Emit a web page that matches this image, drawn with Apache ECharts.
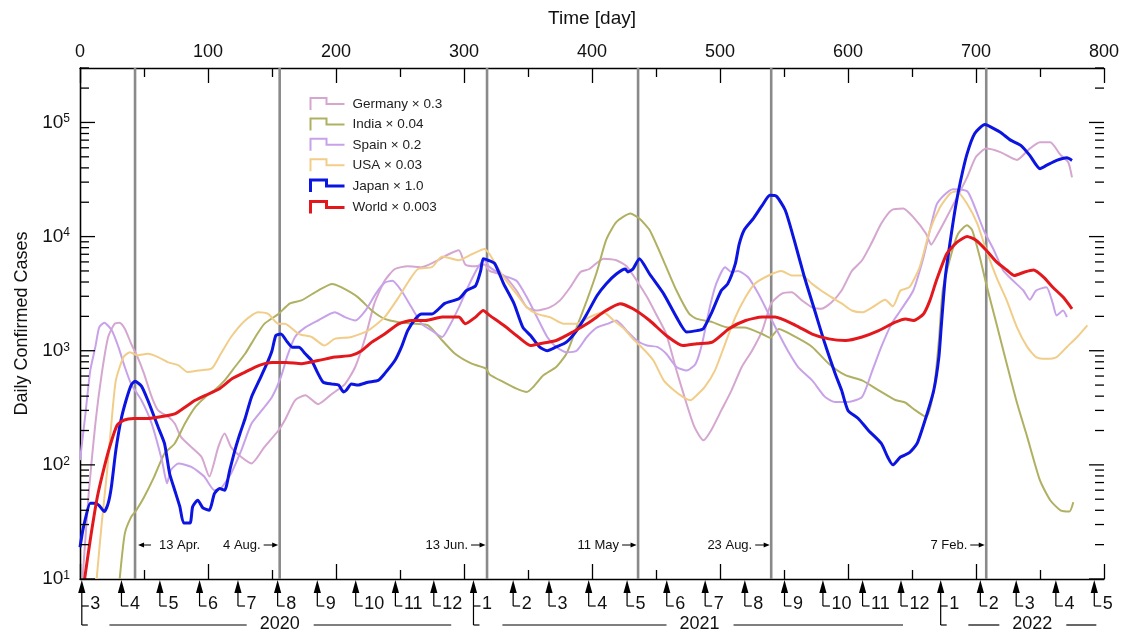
<!DOCTYPE html>
<html>
<head>
<meta charset="utf-8">
<script src="https://cdn.jsdelivr.net/npm/echarts@6/dist/echarts.min.js"></script>
<style>
  html, body { margin: 0; padding: 0; background: #ffffff; }
  #chart { width: 1123px; height: 632px; }
</style>
</head>
<body>
<div id="chart"></div>
<script>
// Daily confirmed cases (7-day smoothed), scaled per country. Day 0 = 1 March 2020.
const germany = [[2,10],[7,60],[12,230],[17,630],[22,1320],[27,1720],[31,1760],[35,1560],[40,1150],[45,880],[50,630],[56,394],[61,300],[69,264],[74,230],[79,175],[87,143],[95,117],[101,79],[108,143],[113,188],[118,143],[126,117],[134,103],[144,143],[155,200],[160,246],[168,368],[176,407],[186,340],[197,420],[207,510],[215,720],[223,1320],[230,2600],[238,4100],[246,5200],[256,5500],[267,5400],[277,6000],[288,7000],[296,7600],[301,5700],[309,5500],[316,5700],[320,5000],[331,4560],[341,3370],[349,2400],[357,2250],[367,2400],[375,2760],[383,3600],[391,4900],[398,5200],[409,6400],[419,6200],[427,5500],[435,4100],[443,2950],[450,2100],[458,1400],[466,670],[474,340],[480,215],[487,164],[493,200],[501,300],[509,450],[517,720],[525,1000],[533,1500],[540,2600],[548,3150],[556,3250],[564,2760],[572,2400],[579,2330],[587,2650],[595,3370],[603,5000],[611,6200],[618,8600],[626,13000],[634,17000],[643,17600],[651,14800],[661,10600],[665,8500],[670,10500],[676,14000],[684,20800],[693,33000],[700,50000],[708,59000],[719,55000],[732,47000],[742,59000],[750,67000],[758,67000],[766,52000],[772,45000],[775,33000]];

const india = [[31,10],[35,25],[40,35],[44,40],[50,52],[58,79],[66,126],[74,154],[82,230],[90,320],[98,394],[105,450],[113,550],[121,720],[129,940],[137,1320],[144,1720],[155,2100],[164,2600],[173,2760],[186,3370],[197,3850],[204,3600],[217,2950],[228,2250],[238,1900],[249,1780],[262,1720],[272,1670],[283,1230],[293,940],[306,770],[317,700],[320,620],[331,530],[341,465],[349,435],[354,480],[362,610],[372,720],[380,940],[388,1600],[396,2760],[404,5000],[411,9300],[419,13400],[430,15900],[437,14400],[445,11400],[456,6100],[466,3370],[476,2100],[482,1900],[494,1780],[506,1600],[519,1600],[533,1400],[539,1300],[546,1550],[559,1320],[572,1080],[585,770],[598,610],[611,550],[624,450],[637,370],[645,350],[651,310],[661,263],[667,450],[671,1230],[674,3370],[680,6600],[686,10600],[693,12550],[697,11400],[703,6600],[708,3850],[716,1720],[724,770],[732,350],[740,176],[750,73],[758,49],[766,40],[773,39],[776,47]];

const spain = [[0,110],[4,264],[8,670],[12,1080],[15,1600],[19,1760],[25,1500],[30,1080],[35,720],[40,510],[48,368],[56,230],[64,110],[68,69],[71,90],[77,103],[87,96],[97,79],[105,60],[110,62],[118,84],[126,134],[134,230],[142,300],[150,394],[157,590],[162,900],[168,1320],[176,1600],[186,1840],[199,2170],[207,1970],[215,1840],[223,2250],[231,3150],[238,3950],[244,4100],[251,3370],[259,2400],[267,1720],[275,1500],[283,1320],[288,1600],[296,2400],[303,3600],[311,5400],[316,6200],[320,5400],[331,4560],[341,4100],[349,2950],[357,1970],[365,1320],[372,1080],[380,970],[388,1000],[396,1320],[404,1600],[412,1720],[419,1840],[427,1500],[435,1230],[443,1110],[451,1080],[458,940],[466,720],[474,670],[481,770],[486,1150],[492,2400],[497,3850],[504,5400],[509,4900],[514,5000],[522,4400],[530,3150],[538,2100],[546,1400],[553,1000],[561,720],[572,550],[582,394],[590,355],[600,355],[611,394],[619,670],[626,1080],[634,1720],[641,2250],[651,3370],[659,6600],[664,11400],[669,18800],[675,23000],[682,26000],[693,25000],[698,19400],[706,11400],[714,7600],[721,5100],[729,4100],[737,3370],[742,2800],[747,3370],[755,3600],[760,2600],[763,2040],[768,2250],[771,1970]];

const usa = [[13,10],[17,31],[21,84],[24.5,230],[28,550],[34,880],[39,970],[45,910],[53,940],[61,880],[69,790],[77,745],[84,650],[92,670],[103,700],[110,940],[118,1320],[129,1840],[139,2170],[147,2100],[155,1720],[160,1720],[171,1400],[181,1320],[191,1110],[199,1270],[212,1320],[225,1500],[238,1970],[249,2950],[257,4100],[264,5200],[275,5400],[283,6700],[296,6200],[306,7000],[316,7800],[320,7000],[331,4400],[341,3150],[349,2400],[357,2100],[367,1970],[378,1720],[388,1720],[398,1970],[409,2170],[417,1840],[425,1560],[432,1270],[440,1040],[448,820],[456,550],[464,450],[471,394],[477,368],[481,400],[488,480],[496,670],[504,1150],[512,1970],[520,2950],[527,3850],[538,4560],[548,5000],[556,4560],[564,4560],[572,3850],[579,3370],[587,2950],[595,2600],[603,2250],[611,2170],[619,2400],[629,2800],[635,2450],[641,3370],[648,3600],[656,5400],[664,11400],[672,18200],[680,24000],[685,25000],[693,19400],[701,13000],[708,7600],[716,4400],[724,2760],[732,1600],[740,1080],[747,880],[755,850],[763,880],[771,1080],[779,1320],[787,1670]];

const japan = [[0,19],[2,26],[4,33],[8,46],[12,46],[15,44],[19,39],[22,46],[24.5,64],[28,134],[32,246],[36,368],[40,500],[43,540],[48,490],[53,368],[61,215],[66,154],[70,84],[74,60],[78,43],[81,31],[86,31],[88,43],[92,49],[96,42],[101,40],[105,56],[109,62],[113,60],[117,90],[121,134],[125,188],[129,255],[134,394],[140,550],[146,770],[150,1000],[153,1360],[157,1400],[162,1190],[166,1070],[171,1070],[176,940],[181,820],[186,630],[190,530],[197,510],[202,500],[206,435],[208,450],[212,510],[217,500],[225,530],[233,550],[238,630],[246,820],[251,1070],[256,1500],[262,1900],[267,2100],[275,2100],[285,2600],[296,2850],[302,3370],[309,3700],[313,5000],[315,6400],[319,6200],[324,5800],[331,3850],[339,2600],[346,1600],[352,1360],[359,1080],[365,1000],[372,1080],[380,1190],[388,1500],[396,2100],[404,3050],[411,3850],[419,4700],[426,5200],[428,4900],[432,5200],[437,6400],[445,4700],[456,3150],[466,1970],[474,1460],[482,1500],[487,1560],[493,2100],[501,3370],[506,3850],[512,5800],[515,8600],[519,11500],[526,14400],[533,18800],[539,23000],[544,22600],[551,17000],[558,9300],[566,4400],[574,2250],[582,1150],[590,630],[595,450],[600,300],[608,255],[616,200],[626,154],[631,117],[635,100],[641,117],[648,128],[654,154],[661,263],[667,450],[671,880],[673,1720],[676,4400],[680,9300],[684,18200],[688,31000],[693,53000],[699,80000],[707,96000],[711,92000],[719,82000],[727,70000],[735,63000],[742,51500],[750,39400],[755,42000],[763,46500],[771,49000],[775,46500]];

const world = [[3.6,10],[8,22],[13.5,52],[19,96],[24,154],[29,222],[34,246],[42,255],[53,255],[63,264],[74,280],[82,320],[90,368],[98,407],[109,465],[119,570],[129,650],[140,745],[150,790],[161,790],[173,770],[186,820],[199,880],[212,910],[220,1000],[228,1190],[238,1400],[249,1720],[259,1840],[270,1840],[283,1970],[296,1970],[301,1720],[309,1970],[315,2250],[320,2040],[331,1670],[341,1360],[352,1110],[359,1150],[372,1230],[385,1460],[398,1780],[411,2250],[422,2580],[432,2330],[445,1840],[458,1360],[471,1110],[482,1150],[494,1190],[507,1560],[520,1840],[533,1970],[543,1970],[559,1670],[572,1400],[585,1270],[598,1230],[611,1320],[624,1500],[637,1780],[645,1900],[651,1840],[659,2100],[664,2760],[669,4100],[677,7000],[685,8900],[693,10000],[700,9300],[708,7600],[716,6000],[724,5100],[730,4560],[738,4900],[745,5100],[753,4400],[760,3600],[768,2950],[775,2330]];

// Event markers (vertical rules) and their captions
const eventDays   = [43, 156, 318, 436, 540, 708];
const eventLabels = ['13 Apr.', '4 Aug.', '13 Jun.', '11 May', '23 Aug.', '7 Feb.'];
const eventSides  = ['right', 'left', 'left', 'left', 'left', 'left'];

// Calendar scale under the plot: first day of each month
const monthStarts = [0,31,61,92,122,153,184,214,245,275,306,337,365,396,426,457,487,518,549,579,610,640,671,702,730,761,791];
const monthLabels = ['3','4','5','6','7','8','9','10','11','12','1','2','3','4','5','6','7','8','9','10','11','12','1','2','3','4','5'];
const yearStartIdx = [0, 10, 22];
const yearLabels  = ['2020', '2021', '2022'];
const yearCenters = [156, 484, 744];
const yearRuleFrom = [23, 330, 694];
const yearRuleTo   = [290, 643, 794];

// Axis ranges / ticks
const xMin = 0, xMax = 800, xStep = 100;
const yMin = 10, yMax = 300000;
const yMajorTicks = [10, 100, 1000, 10000, 100000];
const yMinorTicks = [];
for (const base of [10, 100, 1000, 10000, 100000]) {
  for (let k = 2; k <= 9; k++) { if (base * k <= yMax) yMinorTicks.push(base * k); }
}

const FONT = '"Liberation Sans", Arial, Helvetica, sans-serif';
const INK = '#111111';

const seriesDefs = [
  { name: 'Germany \u00d7 0.3', data: germany, color: '#d5a6cf', width: 2 },
  { name: 'India \u00d7 0.04',  data: india,   color: '#b0b062', width: 2 },
  { name: 'Spain \u00d7 0.2',   data: spain,   color: '#c7a2e9', width: 2 },
  { name: 'USA \u00d7 0.03',    data: usa,     color: '#f1cd89', width: 2 },
  { name: 'Japan \u00d7 1.0',   data: japan,   color: '#0b14e0', width: 3 },
  { name: 'World \u00d7 0.003', data: world,   color: '#e3181c', width: 3 }
];

const chart = echarts.init(document.getElementById('chart'), null, { renderer: 'canvas' });

function arrowHead(tipX, tipY, dir) {
  // dir: +1 points right, -1 points left
  const len = 6, half = 2.6;
  return { type: 'polygon', shape: { points: [[tipX, tipY], [tipX - dir * len, tipY - half], [tipX - dir * len, tipY + half]] }, style: { fill: '#000' } };
}

const lineSeries = seriesDefs.map(s => ({
  name: s.name,
  type: 'line',
  data: s.data,
  showSymbol: false,
  symbol: 'none',
  smooth: 0.2,
  clip: true,
  z: 3,
  lineStyle: { color: s.color, width: s.width },
  itemStyle: { color: s.color },
  emphasis: { disabled: true }
}));

const eventSeries = {
  type: 'custom',
  silent: true,
  z: 2,
  clip: false,
  data: eventDays.map(d => [d, yMin]),
  renderItem: function (params, api) {
    const d = api.value(0);
    const top = api.coord([d, yMax]);
    const bot = api.coord([d, yMin]);
    const x = top[0];
    const ly = bot[1] - 34;
    const i = params.dataIndex;
    const kids = [
      { type: 'line', shape: { x1: x, y1: top[1], x2: x, y2: bot[1] }, style: { stroke: '#8a8a8a', lineWidth: 2.6 } }
    ];
    if (eventSides[i] === 'right') {
      kids.push({ type: 'line', shape: { x1: x + 8, y1: ly, x2: x + 16, y2: ly }, style: { stroke: '#000', lineWidth: 1 } });
      kids.push(arrowHead(x + 3, ly, -1));
      kids.push({ type: 'text', style: { text: eventLabels[i], x: x + 24, y: ly, fill: INK, fontSize: 13, fontFamily: FONT, align: 'left', verticalAlign: 'middle' } });
    } else {
      kids.push({ type: 'line', shape: { x1: x - 16, y1: ly, x2: x - 7, y2: ly }, style: { stroke: '#000', lineWidth: 1 } });
      kids.push(arrowHead(x - 1.5, ly, 1));
      kids.push({ type: 'text', style: { text: eventLabels[i], x: x - 19, y: ly, fill: INK, fontSize: 13, fontFamily: FONT, align: 'right', verticalAlign: 'middle' } });
    }
    return { type: 'group', children: kids };
  }
};

const yTickSeries = {
  type: 'custom',
  silent: true,
  z: 5,
  clip: false,
  data: yMajorTicks.map(v => [xMin, v, 1]).concat(yMinorTicks.map(v => [xMin, v, 0])),
  renderItem: function (params, api) {
    const v = api.value(1);
    const len = api.value(2) ? 15 : 9;
    const l = api.coord([xMin, v]);
    const r = api.coord([xMax, v]);
    const st = { stroke: '#000', lineWidth: 1.3 };
    return { type: 'group', children: [
      { type: 'line', shape: { x1: l[0], y1: l[1], x2: l[0] + len, y2: l[1] }, style: st },
      { type: 'line', shape: { x1: r[0], y1: r[1], x2: r[0] - len, y2: r[1] }, style: st }
    ] };
  }
};

const monthSeries = {
  type: 'custom',
  silent: true,
  z: 5,
  clip: false,
  data: monthStarts.map(d => [d, yMin]),
  renderItem: function (params, api) {
    const i = params.dataIndex;
    const p = api.coord([api.value(0), yMin]);
    const x = p[0] + 1.8;
    const y0 = p[1];
    const isYear = yearStartIdx.indexOf(i) >= 0;
    const st = { stroke: '#000', lineWidth: 1.2 };
    const kids = [
      { type: 'polygon', shape: { points: [[x, y0 + 1], [x - 3.6, y0 + 14], [x + 3.6, y0 + 14]] }, style: { fill: '#000' } },
      { type: 'line', shape: { x1: x, y1: y0 + 13, x2: x, y2: isYear ? y0 + 46 : y0 + 27 }, style: st },
      { type: 'line', shape: { x1: x, y1: y0 + 27, x2: x + 7, y2: y0 + 27 }, style: st },
      { type: 'text', style: { text: monthLabels[i], x: x + 8.5, y: y0 + 25, fill: INK, fontSize: 18, fontFamily: FONT, align: 'left', verticalAlign: 'middle' } }
    ];
    if (isYear) {
      kids.push({ type: 'line', shape: { x1: x, y1: y0 + 46, x2: x + 6, y2: y0 + 46 }, style: st });
    }
    return { type: 'group', children: kids };
  }
};

const yearSeries = {
  type: 'custom',
  silent: true,
  z: 5,
  clip: false,
  data: yearCenters.map(d => [d, yMin]),
  renderItem: function (params, api) {
    const i = params.dataIndex;
    const c = api.coord([api.value(0), yMin]);
    const a = api.coord([yearRuleFrom[i], yMin]);
    const b = api.coord([yearRuleTo[i], yMin]);
    const y = c[1] + 46;
    const st = { stroke: '#000', lineWidth: 1.2 };
    return { type: 'group', children: [
      { type: 'line', shape: { x1: a[0], y1: y, x2: c[0] - 33, y2: y }, style: st },
      { type: 'line', shape: { x1: c[0] + 34, y1: y, x2: b[0], y2: y }, style: st },
      { type: 'text', style: { text: yearLabels[i], x: c[0], y: y - 1, fill: INK, fontSize: 18, fontFamily: FONT, align: 'center', verticalAlign: 'middle' } }
    ] };
  }
};

const axisLineStyle = { color: '#000', width: 1.3 };

const option = {
  animation: false,
  backgroundColor: '#ffffff',
  textStyle: { fontFamily: FONT },
  grid: { left: 80, right: 19, top: 68, bottom: 53, containLabel: false },
  legend: {
    orient: 'vertical',
    left: 304,
    top: 92,
    itemWidth: 34,
    itemHeight: 12,
    itemGap: 6.4,
    selectedMode: false,
    textStyle: { fontSize: 13.5, color: '#222', fontFamily: FONT, padding: [0, 0, 0, 3] },
    data: seriesDefs.map(s => ({
      name: s.name,
      icon: 'path://M0,12L0,0L16,0L16,6L34,6',
      itemStyle: { color: 'transparent', borderColor: s.color, borderWidth: s.width }
    }))
  },
  xAxis: [
    {
      type: 'value', position: 'top', min: xMin, max: xMax, interval: xStep,
      name: 'Time [day]', nameLocation: 'middle', nameGap: 40,
      nameTextStyle: { fontSize: 19, color: INK, fontFamily: FONT },
      axisLine: { show: true, lineStyle: axisLineStyle },
      axisTick: { show: true, inside: true, length: 15, lineStyle: axisLineStyle },
      minorTick: { show: true, splitNumber: 2, length: 9, lineStyle: axisLineStyle },
      axisLabel: { fontSize: 18, color: INK, margin: 7, fontFamily: FONT },
      splitLine: { show: false }, minorSplitLine: { show: false }
    },
    {
      type: 'value', position: 'bottom', min: xMin, max: xMax, interval: xStep,
      axisLine: { show: true, lineStyle: axisLineStyle },
      axisTick: { show: true, inside: true, length: 15, lineStyle: axisLineStyle },
      minorTick: { show: true, splitNumber: 2, length: 9, lineStyle: axisLineStyle },
      axisLabel: { show: false },
      splitLine: { show: false }, minorSplitLine: { show: false }
    }
  ],
  yAxis: [
    {
      type: 'log', logBase: 10, min: yMin, max: yMax, position: 'left',
      name: 'Daily Confirmed Cases', nameLocation: 'middle', nameGap: 47, nameRotate: 90,
      nameTextStyle: { fontSize: 18, color: INK, fontFamily: FONT },
      axisLine: { show: true, lineStyle: axisLineStyle },
      axisTick: { show: false }, minorTick: { show: false },
      splitLine: { show: false }, minorSplitLine: { show: false },
      axisLabel: {
        margin: 10,
        formatter: function (v) {
          const e = Math.log10(v);
          const r = Math.round(e);
          if (Math.abs(e - r) > 1e-6) return '';
          return '{b|10}{e|' + r + '}';
        },
        rich: {
          b: { fontSize: 19, color: INK, fontFamily: FONT },
          e: { fontSize: 12, color: INK, fontFamily: FONT, verticalAlign: 'top' }
        }
      }
    },
    {
      type: 'log', logBase: 10, min: yMin, max: yMax, position: 'right',
      axisLine: { show: true, lineStyle: axisLineStyle },
      axisTick: { show: false }, minorTick: { show: false },
      axisLabel: { show: false },
      splitLine: { show: false }, minorSplitLine: { show: false }
    }
  ],
  series: [eventSeries].concat(lineSeries, [yTickSeries, monthSeries, yearSeries])
};

chart.setOption(option);
</script>
</body>
</html>
